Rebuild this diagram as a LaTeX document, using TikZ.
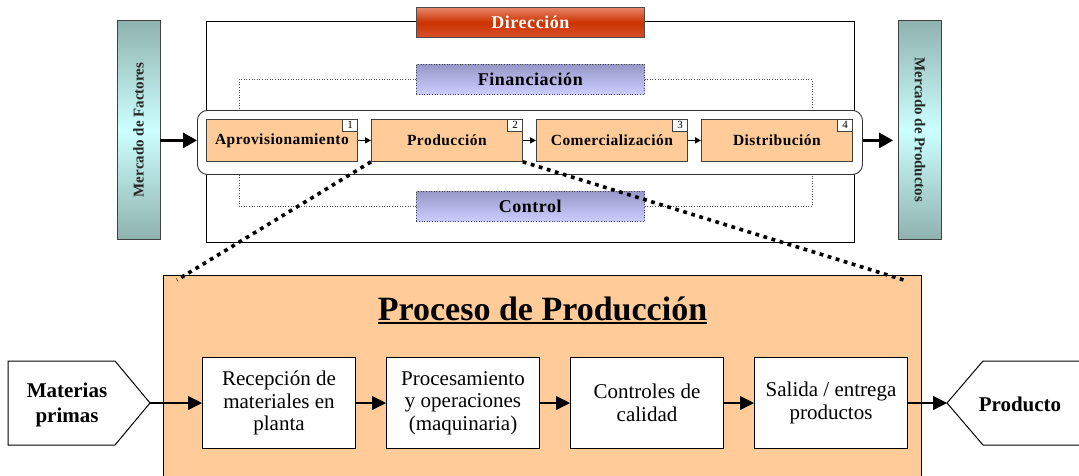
\documentclass[tikz,border=0pt]{standalone}
\usepackage{fontspec}
\usepackage{graphicx}
\setmainfont{Liberation Serif}
\usetikzlibrary{arrows.meta}
\definecolor{peach}{HTML}{FFCC99}
\definecolor{dirtop}{HTML}{E8866A}
\definecolor{dirmid}{HTML}{CC3300}
\definecolor{dirbot}{HTML}{D9502A}
\definecolor{lavtop}{HTML}{9898C8}
\definecolor{lavbot}{HTML}{CCCCFF}
\definecolor{tealdark}{HTML}{8FB2AE}
\definecolor{teallight}{HTML}{CCFFFF}
\tikzset{
  procbox/.style={draw=black!75, line width=0.8pt, fill=peach, minimum width=151pt, minimum height=42pt,
    inner sep=0pt, anchor=north west, font=\bfseries\fontsize{15.5}{17}\selectfont\addfontfeature{LetterSpace=3}},
  numbox/.style={draw=black!75, fill=white, line width=0.6pt, minimum width=15pt, minimum height=12pt,
    inner sep=0pt, anchor=north east, font=\fontsize{11}{11}\selectfont},
  lavbox/.style={draw=black!70, dotted, line width=0.6pt, top color=lavtop, bottom color=lavbot,
    minimum width=228pt, minimum height=30pt, inner sep=0pt, anchor=north west,
    font=\bfseries\fontsize{18}{20}\selectfont\addfontfeature{LetterSpace=3}},
  thindot/.style={draw=black!70, dotted, line width=0.6pt},
  mercado/.style={draw=black!75, line width=0.8pt, top color=tealdark, bottom color=tealdark, middle color=teallight,
    minimum width=43pt, minimum height=219pt, inner sep=0pt, text=black!85,
    font=\bfseries\fontsize{15}{17}\selectfont},
  bigarrow/.style={line width=3pt, -{Triangle[length=14pt,width=15pt]}},
  smallarrow/.style={line width=1.4pt, -{Triangle[length=6pt,width=6pt]}},
  flowbox/.style={draw, line width=1pt, fill=white, minimum width=153pt, minimum height=91pt, inner sep=0pt,
    anchor=north west, align=center, font=\fontsize{21}{22.5}\selectfont},
  flowarrow/.style={line width=1.3pt, -{Triangle[length=14pt,width=14pt]}},
  endshape/.style={draw, line width=1pt, fill=white},
  endtext/.style={align=center, font=\bfseries\fontsize{21}{25}\selectfont},
  zoomline/.style={line width=3.6pt, dash pattern=on 3.8pt off 4.6pt}
}
\begin{document}
\begin{tikzpicture}[x=1pt,y=-1pt]
\useasboundingbox (0,0) rectangle (1079,475);
\fill[white] (0,0) rectangle (1079,475);

% frame
\node[draw, line width=1.1pt, minimum width=648pt, minimum height=221pt, inner sep=0pt, anchor=north west] (frame) at (206,21) {};

% dotted feeders
\coordinate (c1) at (239,110);
\coordinate (c2) at (812,110);
\coordinate (c3) at (239,174);
\coordinate (c4) at (812,174);
\node[lavbox] (fin) at (416,64) {Financiación};
\node[lavbox] (ctl) at (416,191) {Control};
\draw[thindot] (fin.west) -| (c1);
\draw[thindot] (fin.east) -| (c2);
\draw[thindot] (ctl.west) -| (c3);
\draw[thindot] (ctl.east) -| (c4);

% chain
\node[draw=black!80, line width=0.9pt, rounded corners=10pt, fill=white, minimum width=665pt, minimum height=64pt,
  inner sep=0pt, anchor=north west] (chain) at (197,110) {};
\node[procbox] (a1) at (206,119) {Aprovisionamiento};
\node[procbox] (a2) at (371,119) {Producción};
\node[procbox] (a3) at (536,119) {Comercialización};
\node[procbox] (a4) at (701,119) {Distribución};
\node[numbox] (n1) at (a1.north east) {1};
\node[numbox] (n2) at (a2.north east) {2};
\node[numbox] (n3) at (a3.north east) {3};
\node[numbox] (n4) at (a4.north east) {4};
\draw[smallarrow] (a1) -- (a2);
\draw[smallarrow] (a2) -- (a3);
\draw[smallarrow] (a3) -- (a4);

% direccion
\node[draw=black!70, line width=0.8pt, top color=dirtop, bottom color=dirbot, middle color=dirmid,
  minimum width=228pt, minimum height=30pt, inner sep=0pt, anchor=north west, text=white,
  font=\bfseries\fontsize{18}{20}\selectfont\addfontfeature{LetterSpace=3}] (dir) at (416,7) {Dirección};

% mercados
\node[mercado] (mf) at (138.5,130) {\rotatebox{90}{Mercado de Factores}};
\node[mercado] (mpr) at (920,130) {\rotatebox{-90}{Mercado de Productos}};
\draw[bigarrow] (mf.east |- a1.west) -- (chain.west |- a1.west);
\draw[bigarrow, shorten >=5pt] (chain.east |- a4.east) -- (mpr.west |- a4.east);

% bottom section
\node[draw, line width=1.2pt, fill=peach, minimum width=758pt, minimum height=220pt, inner sep=0pt, anchor=north west] (pp) at (163,275) {};
\node[inner sep=0pt, anchor=base, font=\bfseries\fontsize{34}{37}\selectfont] (title) at (542.5,320) {Proceso de Producción};
\draw[line width=2.2pt] ([yshift=-3pt]title.base west) -- ([yshift=-3pt]title.base east);

\node[flowbox] (b1) at (202,357) {Recepción de\\materiales en\\planta};
\node[flowbox] (b2) at (386,357) {Procesamiento\\y operaciones\\(maquinaria)};
\node[flowbox] (b3) at (570,357) {Controles de\\calidad};
\node[flowbox] (b4) at (754,357) {Salida / entrega\\productos};

\draw[endshape] (8,361) -- (115,361) -- (150,403) -- (115,445) -- (8,445) -- cycle;
\node[endtext] (mat) at (67,405) {Materias\\primas};
\coordinate (mattip) at (150,403);
\draw[endshape] (1090,361) -- (983,361) -- (947,403) -- (983,445) -- (1090,445);
\node[endtext] (prod) at (1020,404) {Producto};
\coordinate (prodtip) at (947,403);

\draw[flowarrow] (mattip) -- (b1.west);
\draw[flowarrow] (b1) -- (b2);
\draw[flowarrow] (b2) -- (b3);
\draw[flowarrow] (b3) -- (b4);
\draw[flowarrow] (b4.east) -- (prodtip);

% zoom lines
\coordinate (zl) at (177,280);
\coordinate (zr) at (907,281);
\draw[zoomline] (a2.south west) -- (zl);
\draw[zoomline] (a2.south east) -- (zr);
\end{tikzpicture}
\end{document}
